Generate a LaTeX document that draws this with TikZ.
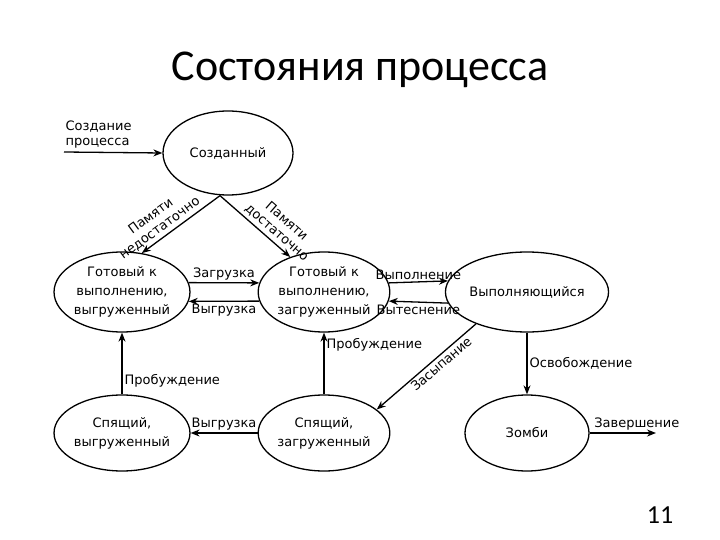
\documentclass[tikz,border=0pt]{standalone}
\usepackage{fontspec}
\setmainfont{DejaVu Sans}
\newfontfamily\titlefont{Carlito}
\usetikzlibrary{shapes.geometric,arrows.meta}
\begin{document}
\begin{tikzpicture}[x=1pt,y=-1pt,
  st/.style={draw,ellipse,line width=1.3pt,minimum width=124pt,minimum height=80pt,inner sep=0pt,align=center,font=\fontsize{13}{19}\selectfont},
  tr/.style={draw,line width=1.3pt,-{Stealth[length=9pt,width=7pt]}},
  lb/.style={font=\fontsize{13}{15}\selectfont,inner sep=2pt}]
\useasboundingbox (0,0) rectangle (720,540);
\node[font=\titlefont\fontsize{44}{52}\selectfont] (title) at (360,70) {Состояния процесса};
\node[font=\titlefont\fontsize{26}{30}\selectfont] (num) at (660,515) {11};

\node[st,minimum width=130pt,minimum height=84pt] (A) at (228,153) {Созданный};
\node[st] (B) at (122,292) {Готовый к\\выполнению,\\выгруженный};
\node[st] (C) at (324,292) {Готовый к\\выполнению,\\загруженный};
\node[st] (D) at (527,292) {Выполняющийся};
\node[st,minimum height=76pt] (E) at (122,433) {Спящий,\\выгруженный};
\node[st,minimum height=76pt] (F) at (324,433) {Спящий,\\загруженный};
\node[st,minimum height=76pt] (G) at (527,433) {Зомби};

\coordinate (in) at (64,152);
\coordinate (out) at (656,433);

\draw[tr] (in) -- node[lb,above right,pos=0,align=left,inner sep=1pt,yshift=2pt] {Создание\\процесса} (A.west);
\draw[tr] ([xshift=-8pt]A.south) -- node[lb,above,sloped,align=center,inner sep=3pt,pos=0.7] {Памяти\\недостаточно} (B.63);
\draw[tr] ([xshift=-8pt]A.south) -- node[lb,above,sloped,align=center,inner sep=3pt,pos=0.72] {Памяти\\достаточно} (C.134);
\draw[tr] (B.8) -- node[lb,above] {Загрузка} (C.172);
\draw[tr] (C.-172) -- node[lb,below] {Выгрузка} (B.-8);
\draw[tr] (C.8) -- node[lb,above] {Выполнение} (D.172);
\draw[tr] (D.-172) -- node[lb,below] {Вытеснение} (C.-8);
\draw[tr] (E.north) -- node[lb,right,pos=0.22] {Пробуждение} (B.south);
\draw[tr] (F.north) -- node[lb,right,pos=0.8] {Пробуждение} (C.south);
\draw[tr] (D.212) -- node[lb,below,sloped,pos=0.4] {Засыпание} (F.24);
\draw[tr] (D.south) -- node[lb,right] {Освобождение} (G.north);
\draw[tr] (F.west) -- node[lb,above] {Выгрузка} (E.east);
\draw[tr] (G.east) -- node[lb,above,xshift=14pt] {Завершение} (out);
\end{tikzpicture}
\end{document}
